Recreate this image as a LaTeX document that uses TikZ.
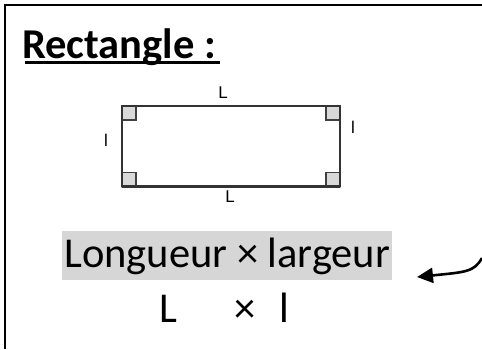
\documentclass[tikz,border=0pt]{standalone}
\usepackage{fontspec}
\setmainfont{Carlito}
\newfontfamily\sidefont{Liberation Sans}
\usetikzlibrary{arrows.meta}

\begin{document}
\begin{tikzpicture}[x=1pt, y=-1pt, side/.style={font=\sidefont\fontsize{17}{17}\selectfont, inner sep=0pt}, corner/.style={draw=black!75, fill=black!15, line width=1.5pt}, big/.style={font=\fontsize{42.5}{42.5}\selectfont, inner sep=0pt}]
\useasboundingbox (0,0) rectangle (482,349);
\draw[line width=2pt] (4.5,349) -- (4.5,4.5) -- (482,4.5);
\node[big, font=\bfseries\fontsize{42.5}{42.5}\selectfont, anchor=base west] (title) at (22,58) {Rectangle :};
\draw[line width=2.2pt] (title.base west) ++(3,4.5) -- ++(195,0);
\coordinate (tl) at (122,106);
\coordinate (br) at (340,186.5);
\foreach \cx/\cy/\dx/\dy in {122/106/1/1, 340/106/-1/1, 122/186.5/1/-1, 340/186.5/-1/-1}
  \draw[corner] (\cx,\cy) rectangle ++(14*\dx,14*\dy);
\draw[black!80, line width=2.6pt, line join=round] (tl) rectangle (br);
\node[side] (topL) at (223,93) {L};
\node[side] (botL) at (230,197) {L};
\node[side] (leftl) at (106,140) {l};
\node[side] (rightl) at (353,127) {l};
\node[big, fill=black!16, inner xsep=2pt, inner ysep=6pt, anchor=base west] (formula) at (62,267) {Longueur × largeur};
\node[big, anchor=base west] (product) at (159,322) {L\hspace{57pt}×\hspace{24pt}l};
\coordinate (arrowstart) at (482,258);
\coordinate (arrowtip) at (417,277);
\draw[line width=2.6pt, -{Triangle[length=16pt,width=15pt]}] (arrowstart) .. controls (474,272) and (466,272) .. (arrowtip);
\end{tikzpicture}
\end{document}
